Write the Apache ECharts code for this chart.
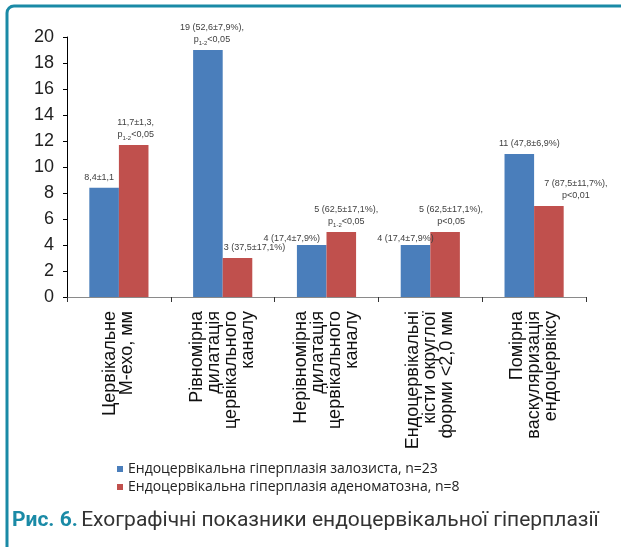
<!DOCTYPE html>
<html><head><meta charset="utf-8">
<script src="https://cdn.jsdelivr.net/npm/echarts@6/dist/echarts.min.js"></script>
<style>html,body{margin:0;padding:0;background:#fff}#c{width:621px;height:547px}</style>
</head><body><div id="c"></div>
<script>
const categories = [
  'Цервікальне\nМ-ехо, мм',
  'Рівномірна\nдилатація\nцервікального\nканалу',
  'Нерівномірна\nдилатація\nцервікального\nканалу',
  'Ендоцервікальні\nкісти округлої\nформи <2,0 мм',
  'Помірна\nваскуляризація\nендоцервіксу'
];
const seriesNames = ['Ендоцервікальна гіперплазія залозиста, n=23', 'Ендоцервікальна гіперплазія аденоматозна, n=8'];
const glandular = [8.4, 19, 4, 4, 11];
const adenomatous = [11.7, 3, 5, 5, 7];
const glandularLabels = ['8,4±1,1', '19 (52,6±7,9%),\n{p|p}{s|1-2}{p|<0,05}', '4 (17,4±7,9%)', '4 (17,4±7,9%)', '11 (47,8±6,9%)'];
const adenomatousLabels = ['11,7±1,3,\n{p|p}{s|1-2}{p|<0,05}', '3 (37,5±17,1%)', '5 (62,5±17,1%),\n{p|p}{s|1-2}{p|<0,05}', '5 (62,5±17,1%),\np<0,05', '7 (87,5±11,7%),\np<0,01'];
const yTicks = [0, 2, 4, 6, 8, 10, 12, 14, 16, 18, 20];

// label nudges (style only)
const blueNudge = [[-5,0],[4,0],[-20,4],[-10,4],[10,0]];
const redNudge = [[2,0],[17,0],[5,0],[6,0],[27,0]];

const labelRich = {
  p: {fontSize: 9, color: '#404040', fontFamily: 'Liberation Sans', lineHeight: 12},
  s: {fontSize: 6, color: '#404040', fontFamily: 'Liberation Sans', lineHeight: 12, verticalAlign: 'bottom', padding: [3,0,0,0]}
};
function makeData(vals, labels, nudges) {
  return vals.map((v, i) => ({
    value: v,
    label: {formatter: labels[i], offset: nudges[i]}
  }));
}
const baseLabel = {show: true, position: 'top', distance: 4, fontSize: 9, color: '#404040', fontFamily: 'Liberation Sans', lineHeight: 12, rich: labelRich};

const chart = echarts.init(document.getElementById('c'), null, {renderer: 'canvas'});
chart.setOption({
  animation: false,
  backgroundColor: '#fff',
  grid: {left: 67, right: 35, top: 37, bottom: 250, containLabel: false},
  legend: {
    orient: 'vertical', left: 112, top: 457, itemWidth: 6, itemHeight: 6, itemGap: 4, icon: 'rect',
    textStyle: {fontSize: 14, color: '#222', fontFamily: 'Open Sans'},
    data: seriesNames
  },
  xAxis: {
    type: 'category', data: categories,
    axisLine: {lineStyle: {color: '#8a8a8a', width: 1}},
    axisTick: {show: true, length: 5, lineStyle: {color: '#333'}},
    axisLabel: {rotate: 90, margin: 14, fontSize: 18, lineHeight: 17, color: '#111', fontFamily: 'Liberation Sans', interval: 0}
  },
  yAxis: {
    type: 'value', min: yTicks[0], max: yTicks[yTicks.length-1], interval: 2,
    splitLine: {show: false},
    axisLine: {show: true, lineStyle: {color: '#000'}},
    axisTick: {show: true, length: 4, lineStyle: {color: '#000'}},
    axisLabel: {margin: 13, fontSize: 18, color: '#222', fontFamily: 'Liberation Sans'}
  },
  series: [
    {name: seriesNames[0], type: 'bar', data: makeData(glandular, glandularLabels, blueNudge), barWidth: '28.5%', barGap: '0%',
     itemStyle: {color: '#4a7ebb'}, label: baseLabel},
    {name: seriesNames[1], type: 'bar', data: makeData(adenomatous, adenomatousLabels, redNudge), barWidth: '28.5%', barGap: '0%',
     itemStyle: {color: '#c0504d'}, label: baseLabel}
  ],
  graphic: [
    {type: 'rect', shape: {x: 7, y: 6, width: 800, height: 800, r: 7}, style: {fill: null, stroke: '#1a8aa6', lineWidth: 3}, silent: true},
    {type: 'text', left: 12, top: 510, style: {
      text: '{a|Рис. 6.} {b|Ехографічні показники ендоцервікальної гіперплазії}',
      rich: {
        a: {fontSize: 21, fontWeight: 'bold', fill: '#1a8aa6', fontFamily: 'Roboto'},
        b: {fontSize: 21, fill: '#333', fontFamily: 'Roboto'}
      }
    }}
  ]
});
</script></body></html>
